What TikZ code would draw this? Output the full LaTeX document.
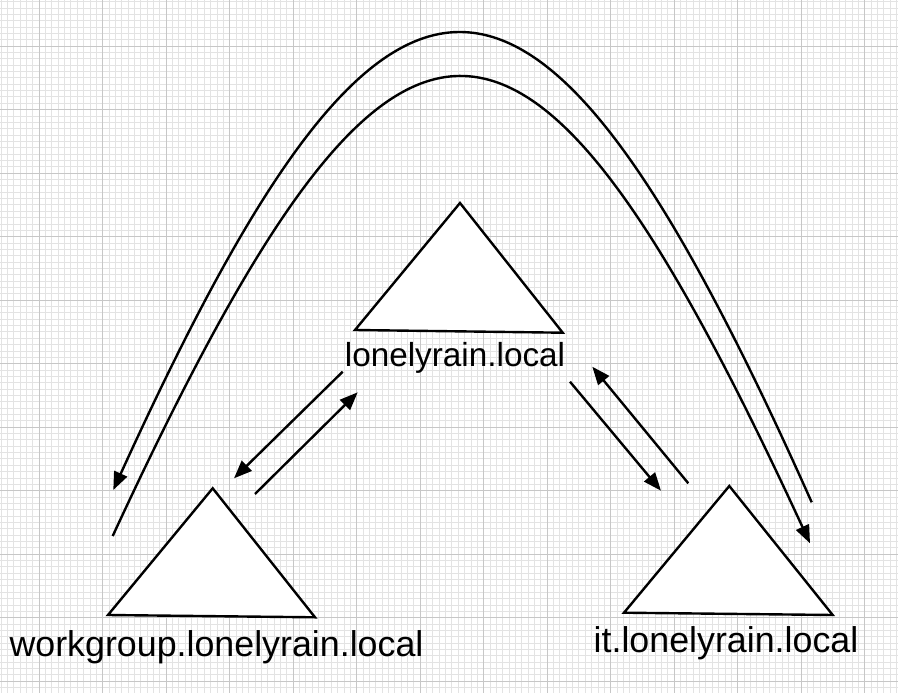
\documentclass[tikz,border=0pt]{standalone}
\usepackage{fontspec}
\setmainfont{Liberation Sans}
\usetikzlibrary{arrows.meta}
\begin{document}
\begin{tikzpicture}[x=1pt,y=-1pt,
  minorgrid/.style={draw=black!11,line width=0.6pt},
  majorgrid/.style={draw=black!22,line width=0.8pt},
  tri/.style={draw=black,fill=white,line width=2.4pt,line join=miter},
  conn/.style={draw=black,line width=2.4pt,-{Triangle[length=18pt,width=14pt]}},
  lbltop/.style={anchor=base,inner sep=0pt,font=\fontsize{33.3}{40}\selectfont},
  lblbot/.style={anchor=base,inner sep=0pt,font=\fontsize{35.8}{42}\selectfont}]
\useasboundingbox (0,0) rectangle (898,693);
\fill[white] (0,0) rectangle (898,693);
% grid
\foreach \i in {0,...,141} {\draw[minorgrid] ({0.9+\i*6.35},0) -- ({0.9+\i*6.35},693);}
\foreach \i in {0,...,109} {\draw[minorgrid] (0,{1.55+\i*6.35}) -- (898,{1.55+\i*6.35});}
\foreach \i in {0,...,14} {\draw[majorgrid] ({39+\i*63.5},0) -- ({39+\i*63.5},693);}
\foreach \i in {0,...,11} {\draw[majorgrid] (0,{46+\i*63.5}) -- (898,{46+\i*63.5});}
% triangles
\coordinate (topA) at (460,203);
\coordinate (topL) at (355,330);
\coordinate (topR) at (562.7,332.7);
\coordinate (lefA) at (212.7,488.3);
\coordinate (lefL) at (108,615);
\coordinate (lefR) at (315,617.3);
\coordinate (rigA) at (729.3,486);
\coordinate (rigL) at (624,612.7);
\coordinate (rigR) at (832.7,615);
\draw[tri] (topA) -- (topL) -- (topR) -- cycle;
\draw[tri] (lefA) -- (lefL) -- (lefR) -- cycle;
\draw[tri] (rigA) -- (rigL) -- (rigR) -- cycle;
% labels
\node[lbltop] (ltop) at (455,366) {lonelyrain.local};
\node[lblbot] (llef) at (216.5,656) {workgroup.lonelyrain.local};
\node[lblbot] (lrig) at (726,652) {it.lonelyrain.local};
% arrow end points
\coordinate (a1s) at (342.7,371.7);
\coordinate (a1e) at (234,478.3);
\coordinate (a2s) at (255,494);
\coordinate (a2e) at (357.7,392.3);
\coordinate (a3s) at (570,381.7);
\coordinate (a3e) at (661,490.7);
\coordinate (a4s) at (688.3,483.3);
\coordinate (a4e) at (592.3,366.7);
\coordinate (oR) at (811.7,502.3);
\coordinate (oL) at (113.3,490);
\coordinate (iL) at (112.7,536);
\coordinate (iR) at (810,543.3);
% connectors
\draw[conn] (a1s) -- (a1e);
\draw[conn] (a2s) -- (a2e);
\draw[conn] (a3s) -- (a3e);
\draw[conn] (a4s) -- (a4e);
\draw[conn] (oR) .. controls (534,-120) and (391,-120) .. (oL);
\draw[conn] (iL) .. controls (396,-76) and (524,-76) .. (iR);
\end{tikzpicture}
\end{document}
